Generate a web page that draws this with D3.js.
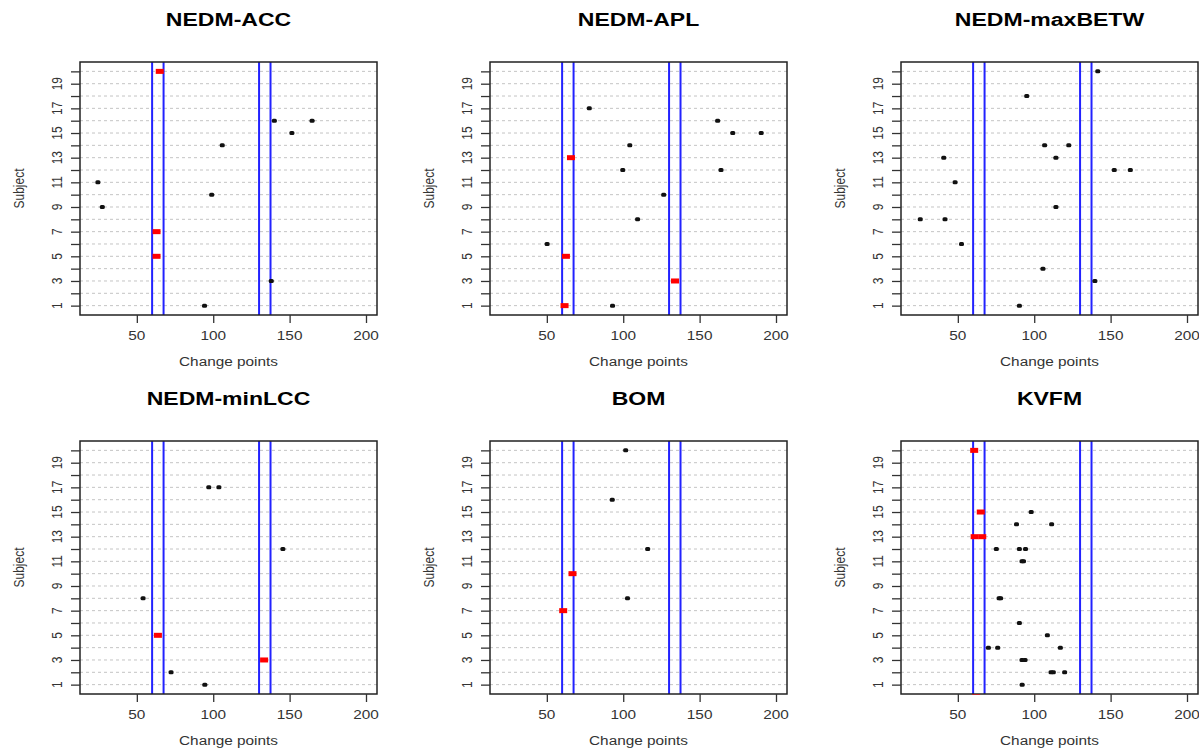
<!DOCTYPE html>
<html>
<head>
<meta charset="utf-8">
<script src="https://d3js.org/d3.v7.min.js"></script>
<style>
  body { margin: 0; background: #fff; }
  svg { display: block; font-family: "Liberation Sans", Arial, sans-serif; }
</style>
</head>
<body>
<svg id="drawing_region"></svg>
<script>
// panel titles
const titles = ['NEDM-ACC', 'NEDM-APL', 'NEDM-maxBETW', 'NEDM-minLCC', 'BOM', 'KVFM'];

// change points (x) and subject (y) per panel
const accX = [65, 140, 164.7, 151.5, 105.9, 24.5, 99, 27.4, 62.9, 62.9, 138, 94.3];
const accY = [20, 16, 16, 15, 14, 11, 10, 9, 7, 5, 3, 1];

const aplX = [77.8, 161.8, 171.7, 190.3, 104.3, 65.8, 99.7, 164, 126.5, 109.4, 50.2, 62.5, 133.9, 61.6, 93];
const aplY = [17, 16, 15, 15, 14, 13, 12, 12, 10, 8, 6, 5, 3, 1, 1];

const betwX = [141.6, 95.1, 106.8, 122.6, 40.8, 114.2, 152.4, 162.9, 48.2, 114.2, 25.4, 41.6, 52.4, 105.7, 139.7, 90.3];
const betwY = [20, 18, 14, 14, 13, 13, 12, 12, 11, 9, 8, 8, 6, 4, 3, 1];

const lccX = [97.1, 103.7, 145.6, 54.1, 63.8, 133.3, 72.4, 94.5];
const lccY = [17, 17, 12, 8, 5, 3, 2, 1];

const bomX = [101.6, 92.8, 116, 66.8, 102.8, 60.7];
const bomY = [20, 16, 12, 10, 8, 7];

const kvfmX = [60.7, 65, 98, 88.4, 111.4, 61, 66, 75.2, 90.3, 94.3, 92, 93, 77, 78, 90.3, 108.6, 70, 76.1, 117.1, 92, 94, 111, 112.5, 119.9, 92.1, 62];
const kvfmY = [20, 15, 15, 14, 14, 13, 13, 12, 12, 12, 11, 11, 8, 8, 6, 5, 4, 4, 4, 3, 3, 2, 2, 2, 1, 0];

const panelX = [accX, aplX, betwX, lccX, bomX, kvfmX];
const panelY = [accY, aplY, betwY, lccY, bomY, kvfmY];

// axes
const xDomain = [12.8, 207.2];
const yDomain = [0.24, 20.76];
const xTicks = [50, 100, 150, 200];
const yTicks = d3.range(1, 21);
const yTickLabels = [1, 3, 5, 7, 9, 11, 13, 15, 17, 19];

// blue reference lines
const bandLines = [60, 67.5, 130, 137.5];

const W = 1199, H = 749;
const stretch = 1.28;

const svg = d3.select('#drawing_region')
    .attr('width', W)
    .attr('height', H);

function stext(g, x, y, str, opt) {
  opt = opt || {};
  let tr = `translate(${x},${y}) scale(${stretch},1)`;
  if (opt.rotate) tr += ` rotate(${opt.rotate})`;
  return g.append('text')
      .attr('transform', tr)
      .attr('text-anchor', opt.anchor || 'middle')
      .attr('font-size', opt.size || 12)
      .attr('font-weight', opt.weight || 'normal')
      .attr('fill', opt.fill || '#222')
      .text(str);
}

class DotPanel {
  constructor(config, xs, ys) {
    this.config = config;
    this.xs = xs;
    this.ys = ys;
    this.init();
  }

  init() {
    let self = this;
    let c = self.config;
    self.g = svg.append('g');
    self.x = d3.scaleLinear().domain(xDomain).range([c.left, c.left + c.width]);
    self.y = d3.scaleLinear().domain(yDomain).range([c.top + c.height, c.top]);

    // points are clipped to the plot box (R clips to the region incl. its border)
    self.g.append('clipPath')
        .attr('id', 'clip' + c.idx)
        .append('rect')
        .attr('x', c.left).attr('y', c.top)
        .attr('width', c.width).attr('height', c.height + 1);
  }

  render() {
    let self = this;
    let c = self.config;
    let g = self.g;

    // dashed grid
    g.selectAll('.grid')
        .data(yTicks)
        .enter()
        .append('line')
        .attr('x1', c.left).attr('x2', c.left + c.width)
        .attr('y1', d => self.y(d)).attr('y2', d => self.y(d))
        .attr('stroke', '#c4c4c4')
        .attr('stroke-width', 1)
        .attr('stroke-dasharray', '3,3');

    // blue lines
    g.selectAll('.band')
        .data(bandLines)
        .enter()
        .append('line')
        .attr('x1', d => self.x(d)).attr('x2', d => self.x(d))
        .attr('y1', c.top).attr('y2', c.top + c.height)
        .attr('stroke', '#2222ff')
        .attr('stroke-width', 2);

    // box
    g.append('rect')
        .attr('x', c.left).attr('y', c.top)
        .attr('width', c.width).attr('height', c.height)
        .attr('fill', 'none')
        .attr('stroke', '#222')
        .attr('stroke-width', 1.5);

    const pts = self.xs.map((v, i) => ({x: v, y: self.ys[i]}));
    const inBand = d => (d.x >= bandLines[0] && d.x <= bandLines[1]) ||
                        (d.x >= bandLines[2] && d.x <= bandLines[3]);

    const pg = g.append('g').attr('clip-path', `url(#clip${c.idx})`);
    pg.selectAll('rect')
        .data(pts)
        .enter()
        .append('rect')
        .attr('x', d => self.x(d.x) - (inBand(d) ? 4 : 2.5))
        .attr('y', d => self.y(d.y) - (inBand(d) ? 2.5 : 2))
        .attr('width', d => inBand(d) ? 8 : 5)
        .attr('height', d => inBand(d) ? 5 : 4)
        .attr('rx', d => inBand(d) ? 0 : 1.5)
        .attr('fill', d => inBand(d) ? '#ff0000' : '#111');

    // x axis
    const xAxis = d3.axisBottom(self.x).tickValues(xTicks).tickSize(8).tickFormat('');
    const xa = g.append('g')
        .attr('transform', `translate(0,${c.top + c.height})`)
        .call(xAxis);
    xa.select('.domain').remove();
    xa.selectAll('line').attr('stroke', '#333').attr('stroke-width', 1.3);
    xTicks.forEach(t => stext(g, self.x(t), c.top + c.height + 25, t, {size: 12, fill: '#333'}));
    stext(g, c.left + c.width / 2, c.top + c.height + 51, 'Change points', {size: 12, fill: '#333'});

    // y axis
    const yAxis = d3.axisLeft(self.y).tickValues(yTicks).tickSize(9).tickFormat('');
    const ya = g.append('g')
        .attr('transform', `translate(${c.left},0)`)
        .call(yAxis);
    ya.select('.domain').remove();
    ya.selectAll('line').attr('stroke', '#333').attr('stroke-width', 1.3);
    yTickLabels.forEach(t => stext(g, c.left - 18, self.y(t), t, {size: 12, fill: '#333', rotate: -90}));
    stext(g, c.left - 56, c.top + c.height / 2, 'Subject', {size: 12, fill: '#333', rotate: -90});

    // title
    stext(g, c.left + c.width / 2, c.top - 36, c.title, {size: 18, weight: 'bold', fill: '#000'});
  }
}

const colLeft = [80, 490, 901];
const rowTop = [62, 441];

titles.forEach((t, i) => {
  const panel = new DotPanel({
    idx: i,
    title: t,
    left: colLeft[i % 3],
    top: rowTop[Math.floor(i / 3)],
    width: 297,
    height: 253
  }, panelX[i], panelY[i]);
  panel.render();
});
</script>
</body>
</html>
